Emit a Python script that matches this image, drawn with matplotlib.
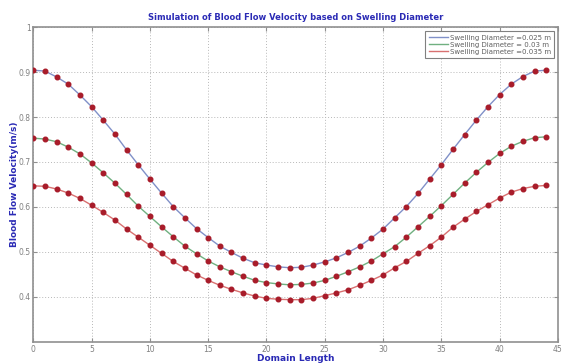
import numpy as np
import matplotlib
matplotlib.use("Agg")
import matplotlib.pyplot as plt

# du lieu doc tu hinh
domain = np.arange(45)

v_025 = [0.904, 0.902, 0.889, 0.873, 0.849, 0.823, 0.793, 0.762, 0.727, 0.694,
         0.662, 0.631, 0.601, 0.576, 0.552, 0.532, 0.513, 0.499, 0.486, 0.476,
         0.471, 0.467, 0.465, 0.466, 0.471, 0.478, 0.487, 0.499, 0.513, 0.531,
         0.551, 0.576, 0.601, 0.630, 0.662, 0.694, 0.728, 0.761, 0.793, 0.823,
         0.850, 0.873, 0.890, 0.902, 0.904]

v_030 = [0.753, 0.751, 0.745, 0.733, 0.718, 0.698, 0.676, 0.653, 0.628, 0.602,
         0.579, 0.556, 0.534, 0.513, 0.496, 0.480, 0.467, 0.456, 0.446, 0.437,
         0.432, 0.429, 0.427, 0.428, 0.431, 0.437, 0.446, 0.456, 0.467, 0.480,
         0.496, 0.512, 0.533, 0.556, 0.579, 0.603, 0.628, 0.653, 0.677, 0.699,
         0.719, 0.735, 0.746, 0.754, 0.756]

v_035 = [0.647, 0.646, 0.640, 0.631, 0.619, 0.604, 0.588, 0.571, 0.551, 0.533,
         0.515, 0.497, 0.479, 0.464, 0.449, 0.437, 0.426, 0.417, 0.409, 0.402,
         0.397, 0.395, 0.394, 0.394, 0.397, 0.403, 0.409, 0.416, 0.426, 0.437,
         0.449, 0.465, 0.479, 0.497, 0.514, 0.533, 0.555, 0.573, 0.590, 0.605,
         0.620, 0.633, 0.641, 0.646, 0.648]

labels = ['Swelling Diameter =0.025 m', 'Swelling Diameter = 0.03 m', 'Swelling Diameter =0.035 m']
line_colors = ['#8090c8', '#70b080', '#d87070']

xticks = list(range(0, 50, 5))
yticks = [0.4, 0.5, 0.6, 0.7, 0.8, 0.9, 1.0]
ytick_labels = ['0.4', '0.5', '0.6', '0.7', '0.8', '0.9', '1']

narrow = ['Liberation Sans Narrow', 'DejaVu Sans']
blue = '#2a2ab5'
grey = '#808080'

fig = plt.figure(figsize=(5.63, 3.63), dpi=100)
ax = fig.add_axes([0.0591, 0.0579, 0.9319, 0.8677])

for series, lab, col in zip([v_025, v_030, v_035], labels, line_colors):
    ax.plot(domain, series, color=col, lw=1.0, label=lab, zorder=2)
    ax.plot(domain, series, 'o', ms=3.3, color='#a81c2a', mec='#a81c2a', zorder=3)

ax.set_xlim(0, 45)
ax.set_ylim(0.3, 1.0)
ax.set_xticks(xticks)
ax.set_yticks(yticks)
ax.set_yticklabels(ytick_labels)

ax.grid(True, linestyle=(0, (1, 2)), color='#b8b8b8', lw=0.7)
for s in ax.spines.values():
    s.set_color('#909090')
    s.set_linewidth(1.2)
ax.tick_params(direction='in', length=3, color='#909090', labelcolor=grey,
               labelsize=5.5, top=True, right=True, pad=2)
for t in ax.get_xticklabels() + ax.get_yticklabels():
    t.set_family(narrow)

ax.set_title('Simulation of Blood Flow Velocity based on Swelling Diameter',
             fontsize=6, fontweight='bold', color=blue, family=narrow, pad=5)
ax.set_xlabel('Domain Length', fontsize=6.5, fontweight='bold', color=blue, family=narrow)
ax.set_ylabel('Blood Flow Velocity(m/s)', fontsize=6.5, fontweight='bold', color=blue, family=narrow)
ax.xaxis.set_label_coords(0.5, -0.054)
ax.xaxis.label.set_va('center')
ax.yaxis.set_label_coords(-0.035, 0.5)
ax.yaxis.label.set_va('center')

leg = ax.legend(loc='upper right', bbox_to_anchor=(0.993, 0.987), borderaxespad=0,
                labelspacing=0.15, handlelength=2.7, handletextpad=0.3,
                borderpad=0.5, fancybox=False, framealpha=1,
                prop={'family': narrow, 'size': 5})
leg.get_frame().set_edgecolor('#808080')
leg.get_frame().set_linewidth(0.8)
for t in leg.get_texts():
    t.set_color('#606060')

fig.savefig('out.png', dpi=100)
